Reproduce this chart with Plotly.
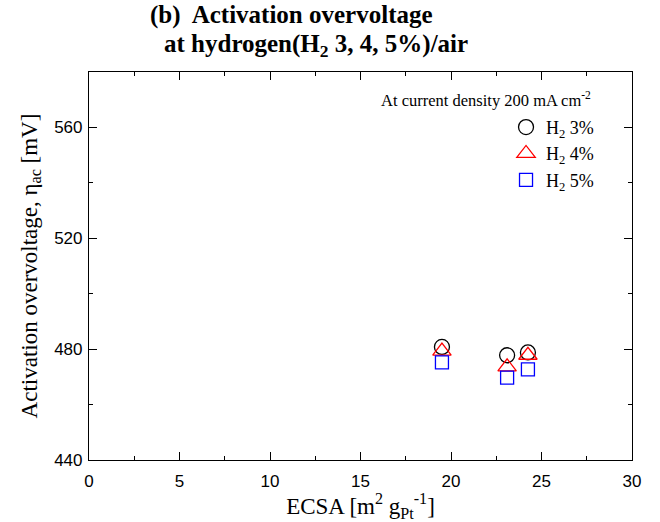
import plotly.graph_objects as go

ecsa = [19.5, 23.1, 24.25]
h2_3 = [480.8, 477.8, 478.8]
h2_4 = [479.3, 473.6, 477.8]
h2_5 = [475.2, 469.7, 472.7]

series = [
    ("H<sub>2</sub> 3%", h2_3, "circle-open", "black", 15),
    ("H<sub>2</sub> 4%", h2_4, "triangle-up-open", "red", 16),
    ("H<sub>2</sub> 5%", h2_5, "square-open", "blue", 13),
]

fig = go.Figure()
for i, (name, ys, sym, col, sz) in enumerate(series):
    fig.add_trace(go.Scatter(
        x=ecsa, y=ys, mode="markers", name=name, legendgroup=f"g{i}",
        marker=dict(symbol=sym, size=sz, color=col, line=dict(width=1.3, color=col)),
    ))

serif = "Liberation Serif, Times New Roman, serif"
sans = "Liberation Sans, Arial, sans-serif"

title_font = dict(family=serif, size=25, color="black")
fig.update_layout(
    width=660, height=522,
    margin=dict(l=89, r=28, t=72, b=62),
    paper_bgcolor="white", plot_bgcolor="white",
    showlegend=True,
    legend=dict(
        x=0.768, xanchor="left", y=0.905, yanchor="top",
        font=dict(family=serif, size=18, color="black"),
        bgcolor="rgba(0,0,0,0)", tracegroupgap=0, itemsizing="trace",
    ),
    annotations=[
        dict(text="<b>(b)  Activation overvoltage</b>", x=0.109, y=1.146,
             xref="paper", yref="paper", xanchor="left", yanchor="middle",
             showarrow=False, font=title_font),
        dict(text="<b>at hydrogen(H<sub>2</sub> 3, 4, 5%)/air</b>", x=0.134, y=1.068,
             xref="paper", yref="paper", xanchor="left", yanchor="middle",
             showarrow=False, font=title_font),
        dict(text="At current density 200 mA cm<sup>-2</sup>",
             x=0.928, y=0.928, xref="paper", yref="paper",
             xanchor="right", yanchor="middle", showarrow=False,
             font=dict(family=serif, size=16.5, color="black")),
    ],
)

fig.update_xaxes(
    range=[0, 30], tickvals=[0, 5, 10, 15, 20, 25, 30], automargin=False,
    showline=True, linecolor="black", linewidth=1.2, mirror="allticks",
    ticks="inside", ticklen=8, tickcolor="black", ticklabelstandoff=5,
    minor=dict(tickvals=[2.5, 7.5, 12.5, 17.5, 22.5, 27.5], ticks="inside", ticklen=4, tickcolor="black"),
    showgrid=False, zeroline=False,
    tickfont=dict(family=sans, size=17, color="black"),
    title=dict(text="ECSA [m<sup>2</sup> g<sub>Pt</sub><sup>-1</sup>]", font=dict(family=serif, size=23, color="black"), standoff=8),
)
fig.update_yaxes(
    range=[440, 580], tickvals=[440, 480, 520, 560], automargin=False,
    showline=True, linecolor="black", linewidth=1.2, mirror="allticks",
    ticks="inside", ticklen=8, tickcolor="black", ticklabelstandoff=2,
    minor=dict(tickvals=[460, 500, 540], ticks="inside", ticklen=4, tickcolor="black"),
    showgrid=False, zeroline=False,
    tickfont=dict(family=sans, size=17, color="black"),
    title=dict(text="Activation overvoltage, η<sub>ac</sub> [mV]", font=dict(family=serif, size=23, color="black"), standoff=10),
)

fig.write_html("out.html")
